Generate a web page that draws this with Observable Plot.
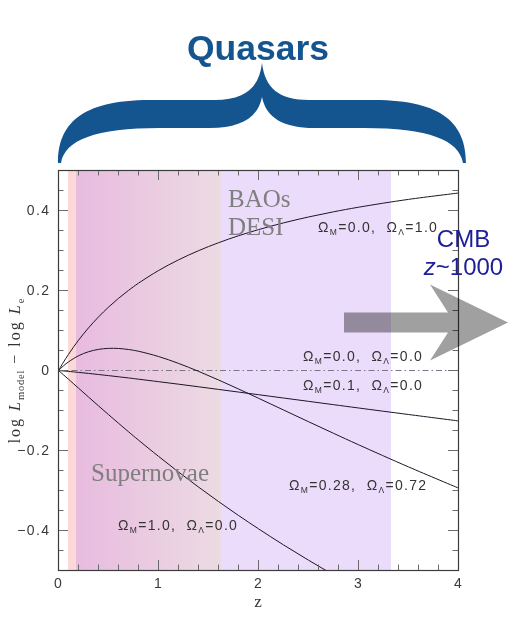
<!DOCTYPE html>
<html>
<head>
<meta charset="utf-8">
<script src="https://cdn.jsdelivr.net/npm/d3@7"></script>
<script src="https://cdn.jsdelivr.net/npm/@observablehq/plot@0.6"></script>
<style>
  html, body { margin: 0; padding: 0; background: #fff; overflow: hidden; }
  svg { display: block; }
</style>
</head>
<body>
<div id="chart"></div>
<script>
// ---- data ----
const z = [0, 0.05, 0.1, 0.2, 0.3, 0.4, 0.5, 0.6, 0.7, 0.8, 1.0, 1.2, 1.4, 1.6, 1.8, 2.0, 2.25, 2.5, 2.75, 3.0, 3.5, 4.0];
// Ω_M=0.0, Ω_Λ=1.0
const lambdaOnly = [0, 0.0209, 0.0404, 0.0756, 0.1065, 0.1339, 0.1584, 0.1804, 0.2002, 0.2183, 0.2499, 0.2766, 0.2995, 0.3194, 0.3368, 0.3522, 0.3690, 0.3838, 0.3967, 0.4082, 0.4278, 0.4437];
// Ω_M=0.1, Ω_Λ=0.0
const openLow = [0, -0.0011, -0.0023, -0.0047, -0.0073, -0.0100, -0.0128, -0.0157, -0.0186, -0.0217, -0.0279, -0.0342, -0.0407, -0.0473, -0.0539, -0.0605, -0.0688, -0.0771, -0.0854, -0.0937, -0.1100, -0.1261];
// Ω_M=0.28, Ω_Λ=0.72
const flatLCDM = [0, 0.0117, 0.0215, 0.0368, 0.0469, 0.0528, 0.0553, 0.0551, 0.0525, 0.0481, 0.0350, 0.0178, -0.0021, -0.0236, -0.0462, -0.0694, -0.0987, -0.1280, -0.1570, -0.1856, -0.2410, -0.2939];
// Ω_M=1.0, Ω_Λ=0.0
const einsteinDeSitter = [0, -0.0109, -0.0219, -0.0441, -0.0663, -0.0884, -0.1102, -0.1318, -0.1531, -0.1740, -0.2146, -0.2538, -0.2914, -0.3276, -0.3624, -0.3958, -0.4360, -0.4742, -0.5109, -0.5460, -0.6121, -0.6733];
// Ω_M=0.0, Ω_Λ=0.0 (reference, empty universe)
const emptyLevel = [0];

// shaded redshift ranges
const bandStart = [0.10, 0.18, 1.63];
const bandEnd   = [0.18, 1.63, 3.33];

// model labels
const omegaM = ["0.0", "0.0", "0.1", "0.28", "1.0"];
const omegaL = ["1.0", "0.0", "0.0", "0.72", "0.0"];

// ticks
const xMajor = [0, 1, 2, 3, 4];
const xMinor = [0.2, 0.4, 0.6, 0.8, 1.2, 1.4, 1.6, 1.8, 2.2, 2.4, 2.6, 2.8, 3.2, 3.4, 3.6, 3.8];
const yMajor = [-0.4, -0.2, 0, 0.2, 0.4];
const yMinor = [-0.45, -0.35, -0.3, -0.25, -0.15, -0.1, -0.05, 0.05, 0.1, 0.15, 0.25, 0.3, 0.35, 0.45];

// ---- build ----
const rows = arr => z.map((v, i) => ({z: v, y: arr[i]}));
const band = i => [{start: bandStart[i], end: bandEnd[i]}];
const fmtY = d => d === 0 ? "0" : d.toFixed(1).replace("-", "\u2212");
const fmtX = d => String(d);
const lineStyle = {x: "z", y: "y", curve: "catmull-rom", stroke: "#1d1626", strokeWidth: 1};
const tickCol = "#6a6a6a";

const chart = Plot.plot({
  width: 514,
  height: 619,
  marginLeft: 58,
  marginRight: 56,
  marginTop: 170,
  marginBottom: 49,
  x: {domain: [0, 4]},
  y: {domain: [-0.5, 0.5]},
  style: {fontFamily: "'Liberation Sans', Arial, sans-serif", fontSize: "14px", color: "#3a3a3a", background: "#fff", letterSpacing: "1.4px"},
  marks: [
    Plot.rect(band(0), {x1: "start", x2: "end", y1: -0.5, y2: 0.5, fill: "#fcd9d7"}),
    Plot.rect(band(1), {x1: "start", x2: "end", y1: -0.5, y2: 0.5, fill: "url(#snGrad)"}),
    Plot.rect(band(2), {x1: "start", x2: "end", y1: -0.5, y2: 0.5, fill: "#ecdcfc"}),
    Plot.ruleY(emptyLevel, {stroke: "#7d7588", strokeWidth: 1, strokeDasharray: "6,3,1.5,3"}),
    Plot.line(rows(lambdaOnly), lineStyle),
    Plot.line(rows(openLow), lineStyle),
    Plot.line(rows(flatLCDM), lineStyle),
    Plot.line(rows(einsteinDeSitter), {...lineStyle, clip: true}),
    // inward ticks on all four sides
    Plot.tickX(xMinor, {insetTop: 394.5, stroke: tickCol}),
    Plot.tickX(xMinor, {insetBottom: 394.5, stroke: tickCol}),
    Plot.tickX(xMajor, {insetTop: 390, stroke: tickCol}),
    Plot.tickX(xMajor, {insetBottom: 390, stroke: tickCol}),
    Plot.tickY(yMinor, {insetRight: 394.5, stroke: tickCol}),
    Plot.tickY(yMinor, {insetLeft: 394.5, stroke: tickCol}),
    Plot.tickY(yMajor, {insetRight: 390, stroke: tickCol}),
    Plot.tickY(yMajor, {insetLeft: 390, stroke: tickCol}),
    Plot.frame({stroke: "#3c3c3c", strokeWidth: 1.2}),
    Plot.axisX({ticks: xMajor, tickSize: 0, tickPadding: 8, tickFormat: fmtX, label: null}),
    Plot.axisY({ticks: yMajor, tickSize: 0, tickPadding: 8, tickFormat: fmtY, label: null})
  ]
});

document.getElementById("chart").appendChild(chart);

// ---- annotations ----
const svg = d3.select(chart);
const X = chart.scale("x"), Y = chart.scale("y");
const sx = v => X.apply(v), sy = v => Y.apply(v);

// gradient for supernova band
const defs = svg.insert("defs", ":first-child");
const grad = defs.append("linearGradient").attr("id", "snGrad")
  .attr("x1", 0).attr("x2", 1).attr("y1", 0).attr("y2", 0);
grad.append("stop").attr("offset", 0).attr("stop-color", "#e8bbdf");
grad.append("stop").attr("offset", 1).attr("stop-color", "#ecdbe3");

const ann = svg.append("g").attr("letter-spacing", 0).attr("text-anchor", "start");

// region labels
const serif = "'Liberation Serif', 'Times New Roman', serif";
const region = (txt, zx, yv) => ann.append("text").attr("x", sx(zx)).attr("y", sy(yv))
  .attr("text-anchor", "start")
  .attr("font-family", serif).attr("font-size", 25).attr("fill", "#7f7f7f").text(txt);
region("BAOs", 1.70, 0.408);
region("DESI", 1.70, 0.3375);
region("Supernovae", 0.33, -0.277);

// model labels
const omegaPos = [[2.60, 0.346], [2.45, 0.022], [2.45, -0.050], [2.31, -0.300], [0.60, -0.400]];
omegaM.forEach((m, i) => {
  const t = ann.append("text").attr("x", sx(omegaPos[i][0])).attr("y", sy(omegaPos[i][1]))
    .attr("text-anchor", "start")
    .attr("font-family", "'Liberation Sans', Arial, sans-serif").attr("font-size", 14)
    .attr("letter-spacing", 1.3).attr("fill", "#333");
  t.append("tspan").text("\u03A9");
  t.append("tspan").attr("font-size", 8.5).attr("dy", 3).text("M");
  t.append("tspan").attr("dy", -3).text("=" + m + ",\u00a0\u00a0\u03A9");
  t.append("tspan").attr("font-size", 8.5).attr("dy", 3).text("\u039B");
  t.append("tspan").attr("dy", -3).text("=" + omegaL[i]);
});

// y-axis title
const yt = ann.append("text")
  .attr("transform", `translate(20,${sy(-0.0)}) rotate(-90)`)
  .attr("text-anchor", "middle").attr("font-family", serif).attr("font-size", 16)
  .attr("letter-spacing", 2).attr("fill", "#333");
yt.append("tspan").text("log\u00a0");
yt.append("tspan").attr("font-style", "italic").text("L");
yt.append("tspan").attr("font-size", 10.5).attr("letter-spacing", 0.8).attr("dy", 4).text("model");
yt.append("tspan").attr("dy", -4).text("\u00a0\u2212\u00a0log\u00a0");
yt.append("tspan").attr("font-style", "italic").text("L");
yt.append("tspan").attr("font-size", 10.5).attr("dy", 4).text("e");

// x-axis title
ann.append("text").attr("x", sx(2)).attr("y", 607).attr("text-anchor", "middle")
  .attr("font-family", serif).attr("font-size", 17).attr("fill", "#333").text("z");

// brace + "Quasars"
const L = sx(0), R = sx(4.08), M = (L + R) / 2, B = 163;
const braceD = [
  `M${L},${B}`,
  `C${L},125 ${L + 22},100 ${L + 92},100`,
  `L${M - 47},100`,
  `C${M - 17},100 ${M - 3},88 ${M},63`,
  `C${M + 3},88 ${M + 17},100 ${M + 47},100`,
  `L${R - 92},100`,
  `C${R - 22},100 ${R},125 ${R},${B}`,
  `L${R - 3},${B}`,
  `C${R - 7},140 ${R - 37},128 ${R - 102},128`,
  `L${M + 52},128`,
  `C${M + 22},128 ${M + 4},118 ${M},97`,
  `C${M - 4},118 ${M - 22},128 ${M - 52},128`,
  `L${L + 102},128`,
  `C${L + 37},128 ${L + 7},140 ${L + 3},${B}`,
  "Z"
].join(" ");
ann.append("path").attr("d", braceD).attr("fill", "#15558f");
ann.append("text").attr("x", M - 4).attr("y", 60).attr("text-anchor", "middle")
  .attr("font-family", "'Liberation Sans', Arial, sans-serif").attr("font-weight", "bold")
  .attr("font-size", 35.5).attr("fill", "#15558f").text("Quasars");

// CMB arrow
const ax0 = sx(2.86), axJ = sx(3.90), axB = sx(3.72), axT = sx(4.50);
const ayC = sy(0.119);
const arrowPts = [
  [ax0, ayC - 10], [axJ, ayC - 10], [axB, ayC - 38], [axT, ayC],
  [axB, ayC + 38], [axJ, ayC + 10], [ax0, ayC + 10]
];
ann.append("path").attr("d", "M" + arrowPts.map(p => p.join(",")).join("L") + "Z")
  .attr("fill", "#a0a0a0").style("mix-blend-mode", "multiply");

const cmb = ann.append("g").attr("font-family", "'Liberation Sans', Arial, sans-serif")
  .attr("font-size", 24).attr("fill", "#1e1e96").attr("text-anchor", "middle");
cmb.append("text").attr("x", 463.5).attr("y", 247).text("CMB");
const zt = cmb.append("text").attr("x", 463.5).attr("y", 275);
zt.append("tspan").attr("font-style", "italic").text("z");
zt.append("tspan").text("~1000");
</script>
</body>
</html>
